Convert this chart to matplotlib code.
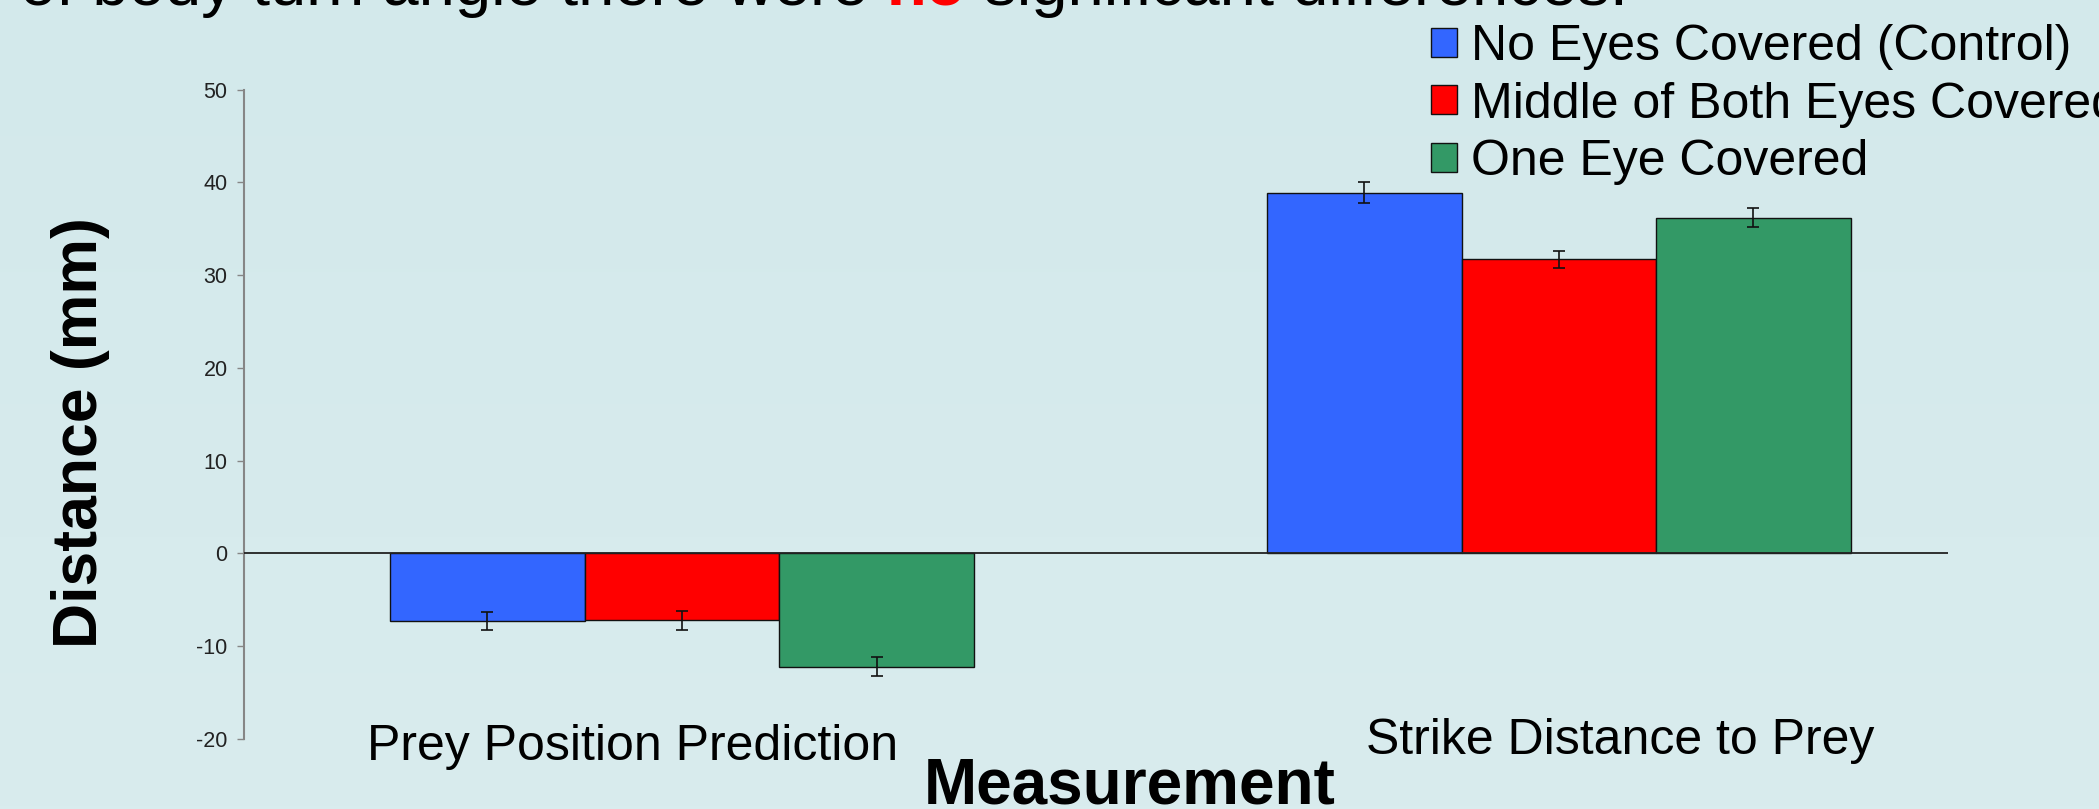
import numpy as np
import matplotlib
matplotlib.use("Agg")
import matplotlib.pyplot as plt
from matplotlib.transforms import blended_transform_factory, ScaledTranslation
from matplotlib.colors import LinearSegmentedColormap

plt.rcParams['font.family'] = ['Liberation Sans', 'DejaVu Sans']
plt.rcParams['axes.unicode_minus'] = False

# ---- data -------------------------------------------------------------
categories = ["Prey Position Prediction", "Strike Distance to Prey"]
series_names = ["No Eyes Covered (Control)",
                "Middle of Both Eyes Covered",
                "One Eye Covered"]
no_eyes = [-7.3, 38.9]
middle_eyes = [-7.2, 31.7]
one_eye = [-12.2, 36.2]
no_eyes_err = [0.95, 1.1]
middle_eyes_err = [1.05, 0.9]
one_eye_err = [1.0, 1.0]
yticks = [-20, -10, 0, 10, 20, 30, 40, 50]

series_values = [no_eyes, middle_eyes, one_eye]
series_errors = [no_eyes_err, middle_eyes_err, one_eye_err]
colors = ["#3366FF", "#FF0000", "#339966"]

W, H = 2099, 809
fig = plt.figure(figsize=(W / 100, H / 100), dpi=100)
fig.patch.set_facecolor("#D5EAEC")

# soft vertical background wash
bg = fig.add_axes([0, 0, 1, 1], zorder=-10)
grad = np.linspace(0, 1, 256).reshape(-1, 1)
cmap = LinearSegmentedColormap.from_list("bg", ["#D3E9EB", "#D9ECEE"])
bg.imshow(grad, aspect="auto", cmap=cmap, extent=[0, 1, 0, 1], origin="upper")
bg.set_axis_off()

ax = fig.add_axes([243.6 / W, 1 - 739 / H, (1947.7 - 243.6) / W, (739 - 89.7) / H])
ax.patch.set_alpha(0)

x = np.arange(len(categories))
width = 0.222
offsets = [-width, 0, width]
bars = []
for vals, errs, col, name, off in zip(series_values, series_errors, colors,
                                      series_names, offsets):
    b = ax.bar(x + off, vals, width, color=col, edgecolor="#111111",
               linewidth=1.0, label=name, zorder=2)
    ax.errorbar(x + off, vals, yerr=errs, fmt="none", ecolor="#111111",
                elinewidth=1.2, capsize=4.2, capthick=1.2, zorder=3)
    bars.append(b)

ax.set_xlim(-0.5, 1.4435)
ax.set_ylim(-20, 50)
ax.set_yticks(yticks)
ax.axhline(0, color="#222222", lw=1.3, zorder=4)

for s in ["top", "right", "bottom"]:
    ax.spines[s].set_visible(False)
ax.spines["left"].set_color("#868686")
ax.spines["left"].set_linewidth(1.5)
ax.tick_params(axis="y", direction="out", length=5, width=1, color="#868686",
               labelcolor="#222222", labelsize=15.5, pad=6.5)
ax.set_xticks([])

# category labels below the plotting area
cat_dx = [-49, 61]          # horizontal shift of each label, pixels
cat_base = [760, 754]       # baseline from top of figure, pixels
for xi, lab, dx, yb in zip(x, categories, cat_dx, cat_base):
    tr = blended_transform_factory(ax.transData, fig.transFigure) + \
        ScaledTranslation(dx / 100, 0, fig.dpi_scale_trans)
    ax.text(xi, 1 - yb / H, lab, transform=tr, ha="center", va="baseline",
            fontsize=36, color="black", clip_on=False)

ax.set_xlabel("Measurement", fontsize=46, fontweight="bold")
ax.xaxis.set_label_coords((1130 - 243.6) / (1947.7 - 243.6), (739 - 803) / (739 - 89.7))
ax.xaxis.label.set_verticalalignment("baseline")

ax.set_ylabel("Distance (mm)", fontsize=45, fontweight="bold")
ax.yaxis.set_label_coords((97 - 243.6) / (1947.7 - 243.6), (739 - 433) / (739 - 89.7))
ax.yaxis.label.set_verticalalignment("baseline")

leg = fig.legend(handles=bars, labels=series_names, loc="upper left",
                 bbox_to_anchor=(1431 / W, 1 - 24 / H), frameon=False,
                 fontsize=36, handlelength=0.52, handleheight=0.52,
                 handletextpad=0.28, labelspacing=0.23, borderpad=0,
                 borderaxespad=0)

# headline sentence running across the top edge
pieces = [("of body turn angle there were ", "black", "normal"),
          ("no", "#FF0000", "bold"),
          (" significant differences.", "black", "normal")]
renderer = fig.canvas.get_renderer()
title_size = 47
widths = []
for txt, col, wt in pieces:
    t = fig.text(0, 0, txt, fontsize=title_size, fontweight=wt)
    widths.append(t.get_window_extent(renderer).width)
    t.remove()
x_px = 1628 - sum(widths)
for (txt, col, wt), w in zip(pieces, widths):
    fig.text(x_px / W, 1 - 5 / H, txt, fontsize=title_size, fontweight=wt,
             color=col, ha="left", va="baseline")
    x_px += w

fig.savefig("out.png", dpi=100, facecolor=fig.get_facecolor())
